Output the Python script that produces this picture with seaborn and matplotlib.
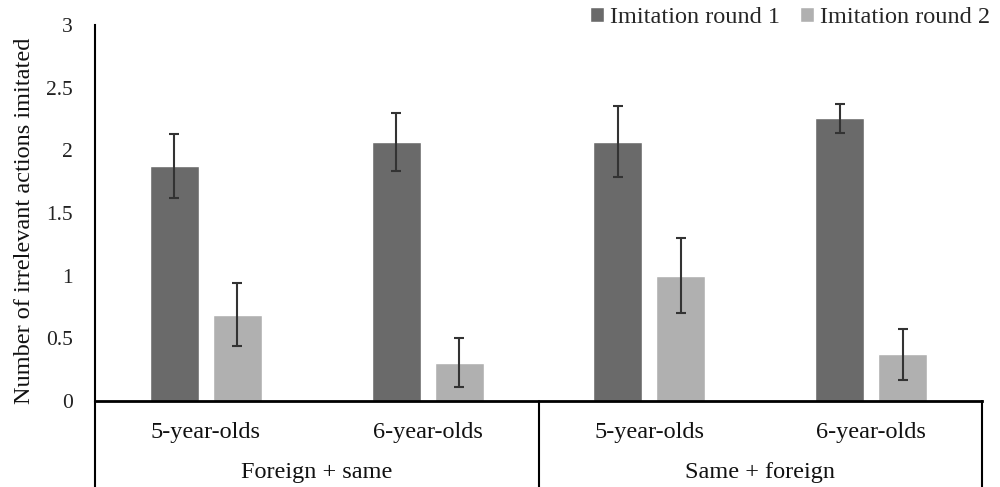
import pandas as pd
import matplotlib.pyplot as plt
import seaborn as sns

# === DADOS ===
groups = ["Foreign + same", "Foreign + same", "Same + foreign", "Same + foreign"]
ages = ["5-year-olds", "6-year-olds", "5-year-olds", "6-year-olds"]
round_names = ["Imitation round 1", "Imitation round 2"]
round1 = [1.875, 2.067, 2.068, 2.255]
round2 = [0.69, 0.307, 1.0, 0.372]
sem1 = [0.255, 0.233, 0.282, 0.113]
sem2 = [0.254, 0.198, 0.298, 0.204]
yticks = [0, 0.5, 1, 1.5, 2, 2.5, 3]

# tabela longa para o seaborn
slots = [f"{g}|{a}" for g, a in zip(groups, ages)]
df = pd.DataFrame({
    "slot": slots * 2,
    "round": [round_names[0]] * 4 + [round_names[1]] * 4,
    "value": round1 + round2,
})

sns.set_style("white")
plt.rcParams["font.family"] = ["Liberation Serif", "DejaVu Serif"]

fig = plt.figure(figsize=(10, 4.87), dpi=100)
ax = fig.add_axes([0.095, 0.1766, 0.887, 0.772])

sns.barplot(data=df, x="slot", y="value", hue="round", order=slots,
            hue_order=round_names, palette=["#6a6a6a", "#b0b0b0"],
            saturation=1, width=0.568, gap=0.222, errorbar=None, ax=ax)

# barras de erro nos centros das barras
for cont, errs in zip(ax.containers, [sem1, sem2]):
    xs = [b.get_x() + b.get_width() / 2 for b in cont]
    ys = [b.get_height() for b in cont]
    ax.errorbar(xs, ys, yerr=errs, fmt="none", ecolor="#333333",
                elinewidth=1.5, capsize=3.6, capthick=1.5, zorder=3)

ax.set_xlim(-0.5, 3.5)
ax.set_ylim(0, 3)
ax.set_yticks(yticks)
ax.set_yticklabels([f"{v:g}" for v in yticks], fontsize=15.5)
ax.set_xticks(range(4))
ax.set_xticklabels(ages, fontsize=17.5)
ax.tick_params(axis="y", length=0, pad=16, colors="#222222")
ax.tick_params(axis="x", length=0, pad=15, colors="#111111")
ax.set_xlabel("")
ax.set_ylabel("Number of irrelevant actions imitated", fontsize=17.5, color="#111111")
ax.yaxis.set_label_coords(-0.068, 0.48)

for s in ["top", "right"]:
    ax.spines[s].set_visible(False)
ax.spines["left"].set_color("black")
ax.spines["left"].set_linewidth(1.5)
ax.spines["bottom"].set_color("black")
ax.spines["bottom"].set_linewidth(2)

# caixa das categorias agrupadas
tr = ax.get_xaxis_transform()
for xv in [-0.5, 1.5, 3.5]:
    ax.plot([xv, xv], [0, -0.235], color="black", lw=1.5,
            transform=tr, clip_on=False)
for i in [0, 2]:
    ax.text(i + 0.5, -0.19, groups[i], transform=tr, ha="center",
            va="center", fontsize=17.5, color="#111111")

handles, labels = ax.get_legend_handles_labels()
ax.get_legend().remove()
fig.legend(handles, labels, loc="upper right", bbox_to_anchor=(1.005, 1.016),
           ncol=2, frameon=False, fontsize=17.5, handlelength=0.6,
           handleheight=0.6, handletextpad=0.25, columnspacing=0.8,
           borderpad=0.1)

fig.savefig("out.png", dpi=100)
